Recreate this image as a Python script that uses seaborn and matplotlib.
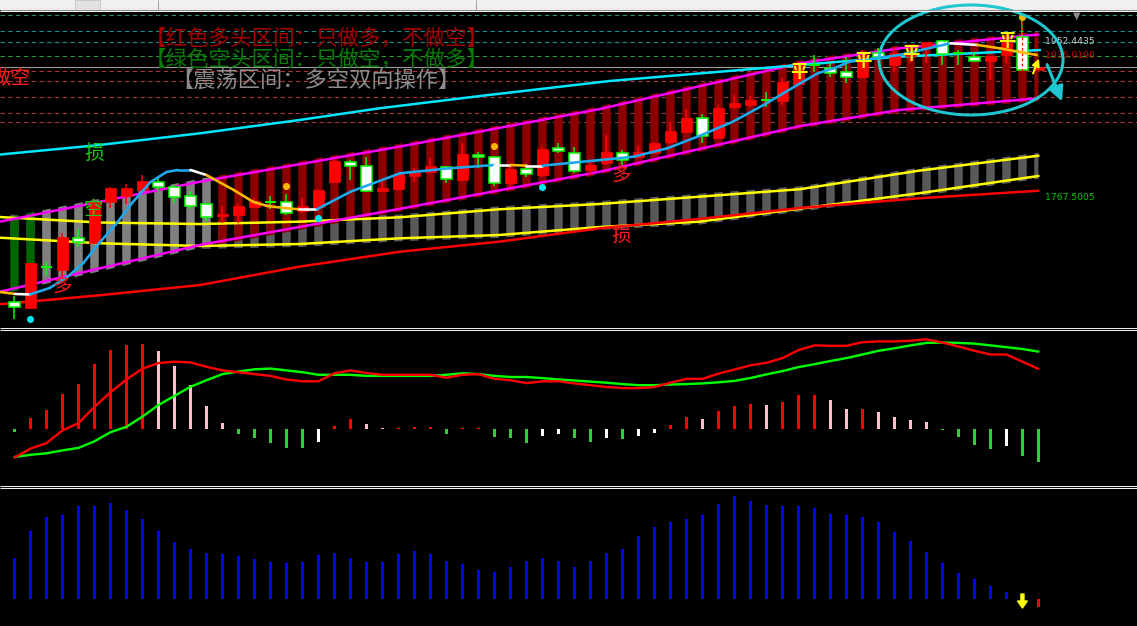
import numpy as np
import matplotlib
matplotlib.use('Agg')
import matplotlib.pyplot as plt
import seaborn as sns
from matplotlib.patches import Polygon, Ellipse, Rectangle, FancyArrowPatch
from matplotlib.collections import LineCollection

# ---- price bars (65 bars) ----
opens = [1643.6, 1637.1, 1685.1, 1682.1, 1719.7, 1713.8, 1763.1, 1769.8, 1777.0, 1786.1,
         1780.9, 1769.8, 1760.0, 1746.1, 1747.3, 1757.2, 1763.1, 1762.4, 1752.4, 1756.4,
         1786.8, 1809.8, 1805.4, 1776.1, 1778.1, 1793.9, 1797.9, 1804.6, 1788.8, 1818.4,
         1815.7, 1784.9, 1801.5, 1794.7, 1826.4, 1821.2, 1800.7, 1808.6, 1821.4, 1816.4,
         1821.4, 1834.2, 1846.1, 1862.0, 1839.2, 1875.7, 1877.7, 1883.6, 1882.8, 1902.6,
         1925.1, 1921.9, 1916.5, 1911.3, 1939.7, 1925.1, 1935.8, 1944.9, 1954.0, 1939.0,
         1935.0, 1930.2, 1937.0, 1958.7, 1919.2]
highs = [1650.7, 1690.4, 1691.6, 1725.6, 1730.4, 1765.9, 1780.9, 1784.1, 1794.7, 1790.8,
         1782.9, 1776.1, 1761.9, 1758.0, 1761.2, 1767.1, 1769.8, 1772.2, 1767.1, 1777.8,
         1812.5, 1812.5, 1816.4, 1788.8, 1796.8, 1802.7, 1814.5, 1805.4, 1832.3, 1822.4,
         1817.3, 1806.6, 1807.8, 1829.1, 1832.3, 1828.3, 1810.5, 1842.2, 1824.4, 1829.1,
         1834.2, 1857.9, 1872.6, 1867.1, 1876.5, 1889.6, 1888.4, 1893.5, 1909.4, 1929.1,
         1937.0, 1927.2, 1935.0, 1942.9, 1945.3, 1946.8, 1948.9, 1952.8, 1954.8, 1943.0,
         1940.6, 1936.2, 1962.7, 1978.5, 1923.1]
lows = [1624.0, 1635.9, 1676.2, 1674.2, 1709.7, 1712.9, 1755.3, 1760.4, 1776.4, 1776.1,
        1761.9, 1754.4, 1740.2, 1737.5, 1738.2, 1756.2, 1754.1, 1747.3, 1749.3, 1755.3,
        1785.3, 1788.8, 1774.9, 1774.9, 1777.0, 1786.8, 1796.8, 1785.6, 1788.2, 1802.7,
        1781.7, 1780.9, 1792.0, 1792.7, 1820.5, 1796.8, 1794.7, 1806.6, 1806.6, 1815.7,
        1820.5, 1831.5, 1844.2, 1833.0, 1838.6, 1873.0, 1875.7, 1875.0, 1877.7, 1902.0,
        1917.2, 1911.3, 1904.2, 1909.4, 1931.1, 1917.2, 1927.2, 1927.2, 1925.1, 1925.1,
        1928.7, 1907.4, 1927.2, 1918.6, 1919.2]
closes = [1638.3, 1690.4, 1685.1, 1720.9, 1715.0, 1763.9, 1779.0, 1779.0, 1787.6, 1780.9,
          1768.3, 1758.3, 1745.3, 1748.5, 1758.0, 1763.9, 1763.1, 1749.3, 1758.0, 1777.0,
          1811.7, 1805.8, 1776.1, 1779.7, 1795.6, 1797.9, 1805.8, 1789.6, 1819.6, 1815.7,
          1784.9, 1801.9, 1795.6, 1825.6, 1823.2, 1799.8, 1806.6, 1821.7, 1812.5, 1822.4,
          1832.3, 1847.5, 1862.3, 1840.4, 1873.8, 1879.7, 1884.2, 1883.6, 1905.3, 1927.2,
          1925.1, 1916.0, 1911.3, 1937.0, 1935.0, 1939.0, 1938.2, 1952.8, 1938.2, 1939.0,
          1930.2, 1936.2, 1952.8, 1919.2, 1923.1]
zones = ['空'] * 2 + ['震'] * 11 + ['多'] * 52

# ---- channel / band lines (vertices: bar position, price) ----
mag_x = [-0.9, 11.6, 24.1, 36.6, 49.1, 55.3, 64.0]
mag_up = [1739.4, 1786.8, 1828.5, 1873.0, 1927.2, 1944.9, 1961.3]
mag_lo = [1656.4, 1711.8, 1754.7, 1798.7, 1852.8, 1871.8, 1885.7]
yel_x = [-0.9, 5.3, 11.6, 17.8, 24.1, 30.3, 36.6, 42.8, 49.1, 56.5, 64.0]
yel_up = [1744.9, 1738.4, 1736.6, 1739.4, 1744.6, 1754.1, 1760.4, 1769.0, 1777.9, 1799.8, 1817.6]
yel_lo = [1720.4, 1713.8, 1710.6, 1712.9, 1719.7, 1723.6, 1733.1, 1739.4, 1754.8, 1773.0, 1793.6]
red_lo = [1641.5, 1652.1, 1664.3, 1686.0, 1703.8, 1715.7, 1731.6, 1742.6, 1755.6, 1767.1, 1776.1]
cyan_x = [-0.9, 5.3, 11.6, 17.8, 22.8, 29.1, 37.2, 47.8, 55.3, 64.1]
cyan_up = [1819.0, 1830.3, 1844.2, 1859.9, 1873.8, 1888.4, 1906.2, 1923.1, 1935.0, 1942.9]

ma_x = [-0.9, 0.03, 0.97, 2.2, 3.3, 4.3, 5.3, 6.4, 7.4, 8.5, 9.5, 10.2, 11.0, 12.0, 13.7,
        14.9, 15.8, 17.0, 17.8, 18.9, 21.0, 24.1, 27.2, 30.0, 31.0, 32.0, 33.0, 36.6, 38.7,
        40.8, 42.8, 44.9, 47.0, 49.1, 50.2, 51.2, 52.2, 55.3, 58.5, 60.2, 61.6, 63.9]
ma_y = [1656.0, 1653.7, 1653.1, 1660.8, 1673.8, 1690.4, 1714.1, 1737.8, 1762.7, 1786.4,
        1798.3, 1800.7, 1800.7, 1794.7, 1777.0, 1763.1, 1758.0, 1755.3, 1754.1, 1754.1,
        1774.9, 1796.8, 1802.7, 1806.6, 1806.6, 1805.8, 1805.8, 1812.5, 1816.4, 1826.4,
        1841.0, 1857.9, 1879.7, 1903.4, 1915.3, 1921.2, 1929.1, 1937.0, 1950.9, 1948.9,
        1944.9, 1937.0]
ma_state = (['dn', 'flat'] + ['up'] * 10 + ['flat'] + ['dn'] * 5 + ['flat'] + ['up'] * 4
            + ['flat', 'dn', 'flat'] + ['up'] * 12 + ['flat'] + ['dn'] * 2)

hline_prices = [1984.4, 1965.4, 1952.4435, 1936.0190, 1923.1, 1918.0, 1906.2, 1887.2, 1868.8, 1857.2]
hline_kind = ['teal2', 'teal', 'teal', 'green', 'solid', 'red', 'red', 'red', 'red', 'red']

up_dot_i = [1, 19, 33]
up_dot_p = [1624.0, 1744.1, 1780.9]
dn_dot_i = [17, 30, 63]
dn_dot_p = [1782.1, 1829.5, 1982.4]
ping_i = [49, 53, 56, 62]
ping_p = [1917.4, 1929.9, 1938.2, 1953.6]
sig_text = ['损', '空', '多', '多', '损']
sig_i = [4.97, 4.9, 3.0, 37.9, 37.9]
sig_p = [1820.8, 1753.3, 1661.4, 1793.6, 1723.6]
sig_side = ['g', 'g', 'r', 'r', 'r']
label_vals = [1952.4435, 1936.0190, 1767.5005]

# ---- MACD panel ----
hist = [-2.9, 10.9, 18.5, 34.9, 44.7, 64.4, 78.5, 84, 85, 77.5,
        62.2, 43.6, 22.9, 5.5, -5.5, -9.8, -14.2, -19.6, -19.6, -13.1,
        2.2, 9.8, 4.4, 0.5, 1, 1.2, 2, -5.5, 0.5, 1,
        -8.7, -9.8, -14.2, -7.6, -5.5, -9.8, -13, -9.8, -10.2, -7.6,
        -4.3, 3.3, 11.9, 9.8, 17.4, 22.8, 25, 23.9, 27.1, 33.6,
        34, 28.2, 19.5, 20, 16.3, 11.9, 8.7, 6.5, -1, -8.7,
        -16.3, -20.6, -17.4, -27.1, -33.6]
dif = [-29, -20, -14.5, -1.8, 5.5, 21.8, 36.4, 49.1, 60, 65.5,
       66.9, 66.2, 61.8, 58.2, 56.4, 54.5, 52.7, 49.1, 47.3, 47.3,
       55.3, 58.2, 55.6, 53.8, 53.8, 53.8, 53.8, 50.9, 53.8, 54.5,
       49.8, 48.4, 45.5, 47.3, 47.3, 45.2, 43.4, 41.6, 40.5, 40.5,
       41.6, 45.9, 49.7, 49.7, 55, 59, 63.3, 65.8, 70.5, 78.5,
       83.2, 82.8, 82.8, 86.4, 87.2, 87.2, 87.9, 89.3, 86.1, 82.1,
       77.8, 74.1, 74.1, 66.9, 59.7]
dea = [-28.4, -26.2, -24.7, -21.8, -19.3, -12.7, -3.6, 1.8, 12, 23.6,
       32.7, 41.8, 48.4, 54.5, 57.1, 59.3, 60, 58.2, 56.4, 53.8,
       53.8, 53.8, 52.7, 52.7, 52.7, 52.7, 52.7, 53.8, 55.3, 54.5,
       52.7, 51.6, 51.6, 50.5, 49.1, 48.1, 47, 45.9, 44.5, 43.4,
       43.4, 44.1, 44.5, 45.2, 46.3, 47.7, 50.6, 54.2, 57.5, 61.5,
       64.4, 67.6, 70.5, 74.1, 77.8, 80.3, 83.2, 85.7, 86.1, 85.7,
       85, 83.2, 81.4, 79.6, 77]

# ---- lower histogram panel ----
vol = [41.5, 68, 82, 84, 93, 93, 96, 89.5, 80, 68,
       57, 50, 46, 45, 43, 40.5, 37, 36, 37, 44,
       46, 41.5, 37, 37, 45, 48, 45, 38, 35, 29.5,
       27.4, 32, 38, 41.5, 38, 32.2, 37.6, 46.3, 49.6, 62.6,
       72.3, 76.7, 80, 84.3, 95.1, 102.7, 98.4, 94, 93, 93,
       90.8, 85.4, 84.3, 82.1, 76.7, 67, 58.2, 47.4, 36.5, 25.7,
       20.3, 12.7, 7.2, 0, -8]
arrow_i, arrow_top, arrow_bot = 63, 5, -9

sns.set_theme(style='dark', rc={'axes.facecolor': 'black', 'figure.facecolor': 'black',
                                'axes.edgecolor': 'black', 'axes.grid': False})
plt.rcParams['font.family'] = ['Noto Sans CJK SC', 'DejaVu Sans']

W, H = 1137, 626
PX = 0.72  # points per pixel at dpi 100
fig = plt.figure(figsize=(W / 100, H / 100), dpi=100)
fig.patch.set_facecolor('black')


def panel(top, bottom):
    ax = fig.add_axes([0, 1 - bottom / H, 1, (bottom - top) / H])
    ax.set_facecolor('black')
    ax.set_xticks([])
    ax.set_yticks([])
    for s in ax.spines.values():
        s.set_visible(False)
    ax.set_xlim(-0.906, 70.16)
    return ax


ax1 = panel(11.5, 326)
ax1.set_ylim(1615.7, 1988.6)
ax2 = panel(330.5, 484.5)
ax2.set_ylim(-55.9, 98.1)
ax3 = panel(489, 626)
ax3.set_ylim(-27, 110)

bars = np.arange(len(opens))
o, h, l, c = map(np.array, (opens, highs, lows, closes))

# horizontal level lines
kind_col = {'teal2': '#2f8a6c', 'teal': '#1b8c8c', 'green': '#2a952a', 'solid': '#9a9a9a', 'red': '#a83434'}
for lvl, k in zip(hline_prices, hline_kind):
    ax1.axhline(lvl, color=kind_col[k], lw=0.8,
                ls='-' if k == 'solid' else (0, (4, 3)), zorder=0.5)


def channel_clip(xs, up, lo, pad):
    xs = np.asarray(xs)
    pts = np.column_stack([np.r_[xs, xs[::-1]],
                           np.r_[np.asarray(up) + pad, (np.asarray(lo) - pad)[::-1]]])
    poly = Polygon(pts, closed=True, fill=False, visible=False)
    ax1.add_patch(poly)
    return poly


ych = channel_clip(yel_x, yel_up, yel_lo, 3.5)
vb = ax1.vlines(bars, 1600, 2000, colors='#595959', lw=8.5 * PX, zorder=1)
vb.set_clip_path(ych)

zone_col = {'空': '#006400', '震': '#808080', '多': '#8b0000'}
mch = channel_clip(mag_x, mag_up, mag_lo, 3.5)
mb = ax1.vlines(bars, 1600, 2000, colors=[zone_col[z] for z in zones], lw=8.5 * PX, zorder=2)
mb.set_clip_path(mch)

lw_line = 2.5 * PX
sns.lineplot(x=yel_x, y=yel_up, ax=ax1, color='#ffff00', lw=lw_line, zorder=3)
sns.lineplot(x=yel_x, y=yel_lo, ax=ax1, color='#ffff00', lw=lw_line, zorder=3)
sns.lineplot(x=yel_x, y=red_lo, ax=ax1, color='#ff0000', lw=lw_line, zorder=3)
sns.lineplot(x=mag_x, y=mag_up, ax=ax1, color='#ff00ff', lw=lw_line, zorder=3)
sns.lineplot(x=mag_x, y=mag_lo, ax=ax1, color='#ff00ff', lw=lw_line, zorder=3)
sns.lineplot(x=cyan_x, y=cyan_up, ax=ax1, color='#00e8ff', lw=lw_line, zorder=3)

# candles
up = c > o
dn = c < o
dj = c == o
ax1.vlines(bars, l, h, colors=np.where(up, '#ff0000', '#00ff00'), lw=1.5 * PX, zorder=4)
ax1.bar(bars[up], (c - o)[up], bottom=o[up], width=0.64, color='#ff0000',
        edgecolor='#ff0000', lw=0.5, zorder=5)
ax1.bar(bars[dn], (o - c)[dn], bottom=c[dn], width=0.64, color='white',
        edgecolor='#00ff00', lw=1.5 * PX, zorder=5)
ax1.hlines(o[dj], bars[dj] - 0.36, bars[dj] + 0.36, colors='#00ff00', lw=2 * PX, zorder=5)
ax1.vlines(63, l[63], h[63], colors='#ff0000', linestyles=(0, (2, 2)), lw=1.3 * PX, zorder=6)

# multi-colour moving average
state_col = {'up': '#1ea8ee', 'dn': '#ffb800', 'flat': '#ffffff'}
segs = [[(ma_x[k], ma_y[k]), (ma_x[k + 1], ma_y[k + 1])] for k in range(len(ma_x) - 1)]
ax1.add_collection(LineCollection(segs, colors=[state_col[s] for s in ma_state],
                                  lw=2.6 * PX, zorder=6, capstyle='round'))

ax1.scatter(up_dot_i, up_dot_p, s=26, color='#00e5ee', zorder=7, linewidths=0)
ax1.scatter(dn_dot_i, dn_dot_p, s=26, color='#ffb400', zorder=7, linewidths=0)
for i, p in zip(ping_i, ping_p):
    ax1.text(i, p, '平', color='#ffff00', fontsize=12.5, fontweight='bold',
             ha='center', va='center', zorder=8)
for t, i, p, s in zip(sig_text, sig_i, sig_p, sig_side):
    ax1.text(i, p, t, color='#18c818' if s == 'g' else '#ff1a1a', fontsize=14,
             ha='center', va='center', zorder=8)
for v, col in zip(label_vals, ['#d0d0d0', '#d00000', '#00c800']):
    ax1.text(64.4, v, f'{v:.4f}', color=col, fontsize=6.7, family='DejaVu Sans',
             ha='left', va='center', zorder=8)

# MACD
hv = np.array(hist)
prev = np.r_[np.nan, hv[:-1]]
hcol = []
for v, pv in zip(hv, prev):
    if v >= 0:
        hcol.append('#ff0000' if not (v < pv) else '#ffc0cb')
    else:
        hcol.append('#32cd32' if not (v > pv) else '#ffffff')
ax2.bar(bars, hv, width=0.19, color=hcol, linewidth=0, zorder=2)
sns.lineplot(x=bars, y=dea, ax=ax2, color='#00ff00', lw=2.4 * PX, zorder=3)
sns.lineplot(x=bars, y=dif, ax=ax2, color='#ff0000', lw=2.4 * PX, zorder=4)

# lower histogram
vv = np.array(vol, dtype=float)
ax3.bar(bars, vv, width=0.19, color=np.where(vv >= 0, '#0000ff', '#ff0000'),
        linewidth=0, zorder=2)
ax3.annotate('', xy=(arrow_i, arrow_bot), xytext=(arrow_i, arrow_top),
             arrowprops=dict(facecolor='#ffff00', edgecolor='#ffff00',
                             width=2.2, headwidth=7, headlength=5))

# overlay: window chrome, separators, headers, hand-drawn marks
ov = fig.add_axes([0, 0, 1, 1], zorder=10)
ov.set_xlim(0, W)
ov.set_ylim(H, 0)
ov.axis('off')
ov.add_patch(Rectangle((0, 0), W, 9.5, fc='#f0f0f0', ec='none'))
ov.add_patch(Rectangle((75, 0), 25, 9.5, fc='#e2e2e2', ec='#c4c4c4', lw=0.6))
ov.vlines([158, 476], 0, 9.5, colors=['#a0a0a0', '#a0a0a0'], lw=0.7)
ov.hlines([9.8], 0, W, colors='#8c8c8c', lw=0.8)
ov.hlines([11.2, 327.6, 329.6, 485.6, 487.6], 0, W, colors='#f0f0f0', lw=0.75)

ov.text(145, 39, '【红色多头区间：只做多，不做空】', color='#a00000', fontsize=15.5,
        ha='left', va='center')
ov.text(145, 60, '【绿色空头区间：只做空，不做多】', color='#087a08', fontsize=15.5,
        ha='left', va='center')
ov.text(171, 81, '【震荡区间：多空双向操作】', color='#8c8c8c', fontsize=16,
        ha='left', va='center')
ov.text(31, 78, '做空', color='#ff1a1a', fontsize=14.5, ha='right', va='center')

ov.add_patch(Ellipse((971, 60), 184, 110, fill=False, ec='#1ec6d0', lw=3 * PX))
ov.add_patch(FancyArrowPatch((1046, 62), (1063, 104), arrowstyle='-|>', mutation_scale=22,
                             color='#1ec6d0', lw=3 * PX))
ov.add_patch(FancyArrowPatch((1032, 76), (1040, 56), arrowstyle='-|>', mutation_scale=11,
                             color='#ffff00', lw=2 * PX))
ov.text(1077, 16, '▼', color='#8c8c8c', fontsize=7, family='DejaVu Sans',
        ha='center', va='center')

fig.savefig('out.png', dpi=100, facecolor='black')
